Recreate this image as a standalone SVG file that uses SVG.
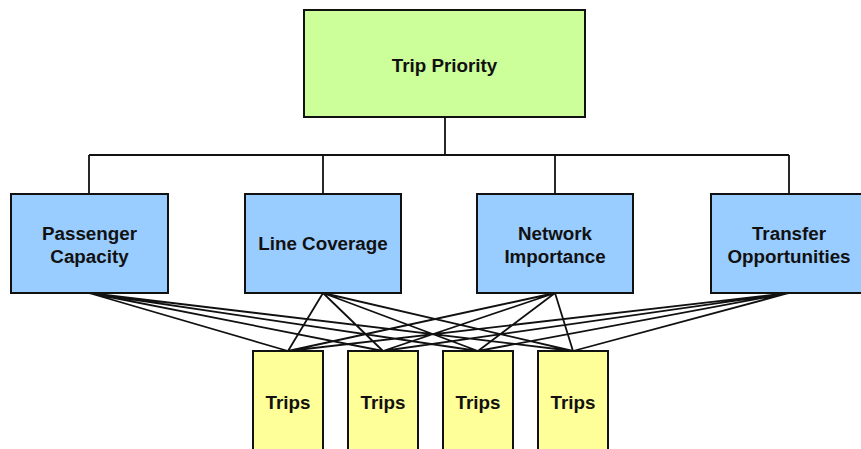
<svg xmlns="http://www.w3.org/2000/svg" width="861" height="449" viewBox="0 0 861 449">
<style>
.box{stroke:#111;stroke-width:2}
.g{fill:#ccff99}.b{fill:#99ccff}.y{fill:#ffff99}
text{font-family:"Liberation Sans",Arial,sans-serif;font-weight:bold;font-size:18.8px;fill:#111;text-anchor:middle}
.c{stroke:#111;stroke-width:1.8;fill:none}
</style>
<rect width="861" height="449" fill="#fff"/>
<g id="connectors">
<path class="c" d="M445 117V155M89 155H789M89 155V194M323 155V194M555 155V194M789 155V194"/>
<path class="c" d="M89 293L288 351M89 293L383 351M89 293L478 351M89 293L573 351M323 293L288 351M323 293L383 351M323 293L478 351M323 293L573 351M555 293L288 351M555 293L383 351M555 293L478 351M555 293L573 351M789 293L288 351M789 293L383 351M789 293L478 351M789 293L573 351"/>
</g>
<g id="trip-priority"><rect class="box g" x="304" y="10" width="281" height="107"/><text x="444.5" y="72">Trip Priority</text></g>
<g id="passenger-capacity"><rect class="box b" x="11" y="194" width="157" height="99"/><text x="89.5" y="240">Passenger</text><text x="89.5" y="263">Capacity</text></g>
<g id="line-coverage"><rect class="box b" x="245" y="194" width="156" height="99"/><text x="323" y="250">Line Coverage</text></g>
<g id="network-importance"><rect class="box b" x="477" y="194" width="156" height="99"/><text x="555" y="240">Network</text><text x="555" y="263">Importance</text></g>
<g id="transfer-opportunities"><rect class="box b" x="711" y="194" width="157" height="99"/><text x="789" y="240">Transfer</text><text x="789" y="263">Opportunities</text></g>
<g id="trips-1"><rect class="box y" x="253" y="351" width="70" height="110"/><text x="288" y="409">Trips</text></g>
<g id="trips-2"><rect class="box y" x="348" y="351" width="70" height="110"/><text x="383" y="409">Trips</text></g>
<g id="trips-3"><rect class="box y" x="443" y="351" width="70" height="110"/><text x="478" y="409">Trips</text></g>
<g id="trips-4"><rect class="box y" x="538" y="351" width="70" height="110"/><text x="573" y="409">Trips</text></g>
</svg>
